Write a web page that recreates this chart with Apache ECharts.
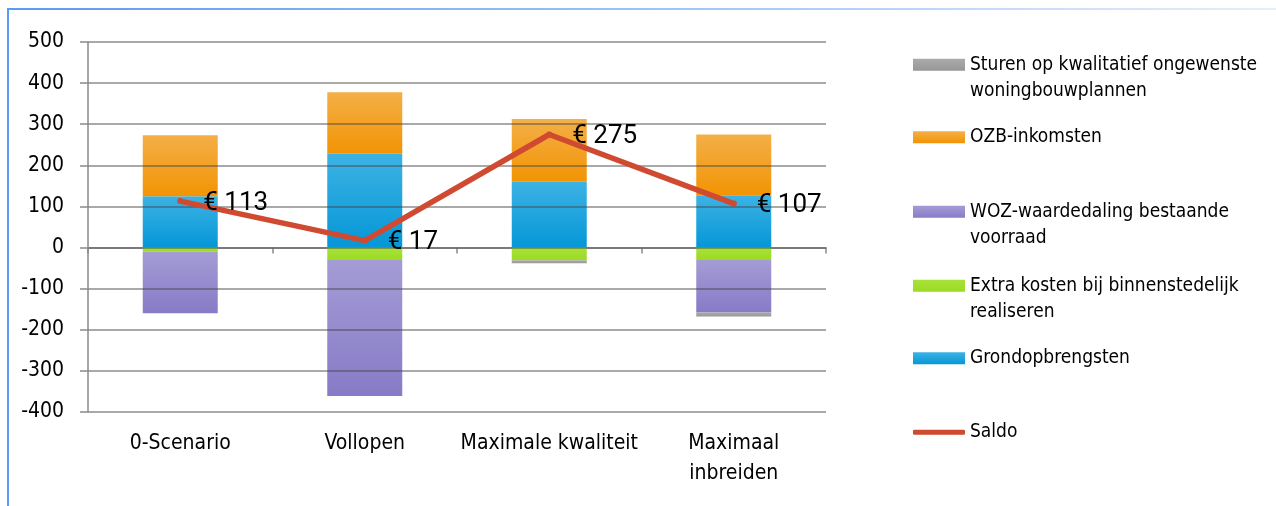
<!DOCTYPE html>
<html>
<head>
<meta charset="utf-8">
<script src="https://cdn.jsdelivr.net/npm/echarts@6/dist/echarts.min.js"></script>
<style>
  html, body { margin: 0; padding: 0; background: #fff; }
  #chart { width: 1276px; height: 506px; }
</style>
</head>
<body>
<div id="chart"></div>
<script>
// Scenario categories
const categories = ['0-Scenario', 'Vollopen', 'Maximale kwaliteit', 'Maximaal\ninbreiden'];

// Components per scenario (x € mln)
const grondopbrengsten = [125, 228, 160, 127];
const ozbInkomsten     = [148, 150, 153, 148];
const extraKosten      = [-10, -30, -31, -30];
const wozWaardedaling  = [-150, -331, 0, -128];
const sturenKwalitatief = [0, 0, -7, -10];
const saldo            = [113, 17, 275, 107];

const yTicks = { min: -400, max: 500, interval: 100 };

const FONT = '"Liberation Sans Narrow", "DejaVu Sans Condensed", sans-serif';

function grad(top, bottom) {
  return new echarts.graphic.LinearGradient(0, 0, 0, 1, [
    { offset: 0, color: top },
    { offset: 1, color: bottom }
  ]);
}

const names = {
  sturen: 'Sturen op kwalitatief ongewenste\nwoningbouwplannen',
  ozb: 'OZB-inkomsten',
  woz: 'WOZ-waardedaling bestaande\nvoorraad',
  extra: 'Extra kosten bij binnenstedelijk\nrealiseren',
  grond: 'Grondopbrengsten',
  saldo: 'Saldo'
};

function barSeries(name, data, top, bottom) {
  return {
    name: name,
    type: 'bar',
    stack: 'totaal',
    barWidth: 75,
    data: data,
    z: 2,
    itemStyle: { color: grad(top, bottom) }
  };
}

// One legend block per entry so each can sit at its own height.
// Two-line entries get an empty leading line so the swatch lines up with the first line.
function legendItem(name, top, twoLines, extra) {
  return Object.assign({
    left: 913,
    top: top,
    padding: 0,
    itemWidth: 52,
    itemHeight: 12,
    icon: 'rect',
    selectedMode: false,
    data: [name],
    formatter: twoLines ? (n => '\n' + n) : (n => n),
    textStyle: {
      fontFamily: FONT,
      fontSize: 19,
      color: '#000',
      lineHeight: 26.5
    }
  }, extra || {});
}

const chart = echarts.init(document.getElementById('chart'), null, { renderer: 'canvas' });

chart.setOption({
  animation: false,
  backgroundColor: '#ffffff',
  graphic: [
    {
      type: 'rect',
      shape: { x: 7, y: 8, width: 1269, height: 2 },
      style: {
        fill: new echarts.graphic.LinearGradient(0, 0, 1, 0, [
          { offset: 0, color: '#5b9bf4' },
          { offset: 0.5, color: '#9cc2f7' },
          { offset: 1, color: '#e6eefb' }
        ])
      },
      silent: true
    },
    {
      type: 'rect',
      shape: { x: 7, y: 8, width: 2, height: 498 },
      style: { fill: '#5b9bf4' },
      silent: true
    }
  ],
  grid: { left: 88, right: 450, top: 42, bottom: 94, containLabel: false },
  legend: [
    legendItem(names.sturen, 25, true),
    legendItem(names.ozb, 124, false),
    legendItem(names.woz, 172, true),
    legendItem(names.extra, 246, true),
    legendItem(names.grond, 345, false),
    legendItem(names.saldo, 419, false, { icon: 'roundRect', itemHeight: 5 })
  ],
  xAxis: [
    {
      type: 'category',
      data: categories,
      axisLine: { onZero: true, lineStyle: { color: '#8a8a8a', width: 1.5 } },
      axisTick: { show: true, length: 6, lineStyle: { color: '#8a8a8a', width: 1.5 } },
      axisLabel: { show: false },
      splitLine: { show: false }
    },
    {
      type: 'category',
      data: categories,
      position: 'bottom',
      axisLine: { show: false, onZero: false },
      axisTick: { show: false },
      axisLabel: {
        interval: 0,
        margin: 17,
        fontFamily: FONT,
        fontSize: 21,
        lineHeight: 30,
        color: '#000'
      }
    }
  ],
  yAxis: {
    type: 'value',
    min: yTicks.min,
    max: yTicks.max,
    interval: yTicks.interval,
    z: 3,
    axisLine: { show: true, lineStyle: { color: '#8a8a8a', width: 1.5 } },
    axisTick: { show: true, length: 8, lineStyle: { color: '#8a8a8a', width: 1.5 } },
    axisLabel: {
      margin: 24,
      fontFamily: FONT,
      fontSize: 21,
      color: '#000'
    },
    splitLine: { show: true, lineStyle: { color: 'rgba(70,70,70,0.62)', width: 1.5 } }
  },
  series: [
    barSeries(names.grond, grondopbrengsten, '#3db2e4', '#0597d7'),
    barSeries(names.extra, extraKosten, '#a9e13a', '#9bdb22'),
    barSeries(names.woz, wozWaardedaling, '#a49cd5', '#877bc7'),
    barSeries(names.sturen, sturenKwalitatief, '#ababab', '#979797'),
    barSeries(names.ozb, ozbInkomsten, '#f4af47', '#f29404'),
    {
      name: names.saldo,
      type: 'line',
      data: saldo,
      z: 5,
      symbol: 'circle',
      symbolSize: 6,
      lineStyle: { color: '#cf4a31', width: 5.5, cap: 'round', join: 'round' },
      itemStyle: { color: '#cf4a31' },
      label: {
        show: true,
        position: 'right',
        distance: 20,
        offset: [0, 2],
        fontFamily: 'Roboto, "Noto Sans", sans-serif',
        fontSize: 26,
        color: '#000',
        formatter: p => '€ ' + p.value
      }
    }
  ]
});
</script>
</body>
</html>
